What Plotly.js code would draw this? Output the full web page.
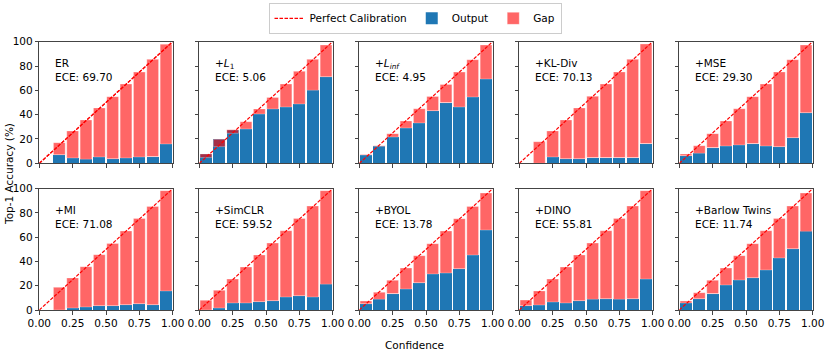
<!DOCTYPE html>
<html>
<head>
<meta charset="utf-8">
<script src="https://cdn.plot.ly/plotly-3.0.1.min.js"></script>
<style>body{margin:0;background:#fff}#myDiv{width:830px;height:356px}</style>
</head>
<body>
<div id="myDiv"></div>
<script>
// bin centres (confidence)
var bins = [0.05, 0.15, 0.25, 0.35, 0.45, 0.55, 0.65, 0.75, 0.85, 0.95];

var names = ['ER', '+<i>L</i><sub>1</sub>', '+<i>L</i><sub><i>inf</i></sub>', '+KL-Div', '+MSE',
             '+MI', '+SimCLR', '+BYOL', '+DINO', '+Barlow Twins'];
var ece = ['69.70', '5.06', '4.95', '70.13', '29.30', '71.08', '59.52', '13.78', '55.81', '11.74'];

// accuracy per bin (blue) and mean confidence per bin (top of gap), in %
var erOut = [null, 7.1, 4.4, 3.3, 5.2, 3.8, 4.4, 5.2, 5.5, 15.9];
var erConf = [null, 17.0, 26.6, 35.6, 45.5, 54.8, 65.2, 75.0, 85.5, 98.0];
var l1Out = [7.7, 19.7, 27.5, 28.2, 40.5, 44.7, 46.3, 48.8, 60.0, 71.2];
var l1Conf = [4.7, 13.7, 24.7, 34.2, 44.7, 54.2, 65.2, 75.6, 85.5, 97.3];
var linfOut = [6.8, 14.0, 21.6, 29.0, 33.2, 43.3, 49.9, 46.3, 54.5, 69.3];
var linfConf = [7.2, 14.4, 24.4, 34.8, 44.9, 55.0, 64.9, 75.0, 85.2, 97.3];
var klOut = [null, 0, 5.2, 3.8, 3.8, 4.7, 4.7, 4.7, 4.7, 16.2];
var klConf = [null, 17.8, 26.6, 35.6, 45.5, 55.1, 65.2, 75.1, 85.5, 98.1];
var mseOut = [6.3, 8.2, 12.9, 14.2, 15.1, 16.2, 14.2, 13.7, 21.1, 41.6];
var mseConf = [7.7, 14.5, 24.4, 34.8, 44.9, 54.8, 65.2, 75.1, 85.2, 97.3];
var miOut = [null, 0, 1.6, 2.5, 3.6, 3.6, 4.4, 5.2, 4.4, 15.7];
var miConf = [null, 18.7, 26.4, 35.7, 45.6, 54.9, 65.1, 75.5, 85.4, 98.4];
var simclrOut = [0, 1.6, 5.8, 5.8, 6.9, 7.7, 10.7, 11.8, 10.7, 21.2];
var simclrConf = [8.0, 16.2, 25.5, 35.4, 45.3, 55.2, 65.4, 75.5, 85.7, 98.4];
var byolOut = [5.2, 8.8, 13.5, 17.3, 22.5, 29.7, 30.5, 34.1, 45.3, 65.9];
var byolConf = [7.4, 14.6, 24.5, 34.6, 44.8, 54.7, 65.1, 75.3, 85.4, 96.4];
var dinoOut = [3.6, 4.1, 6.6, 5.8, 7.7, 8.8, 9.3, 8.8, 9.3, 25.5];
var dinoConf = [8.2, 15.7, 25.5, 35.4, 45.3, 55.2, 65.4, 75.5, 85.7, 98.4];
var barlowOut = [5.8, 9.3, 13.5, 20.6, 24.7, 26.6, 33.0, 42.9, 50.5, 64.8];
var barlowConf = [7.4, 14.3, 24.5, 34.6, 44.8, 54.7, 65.4, 75.5, 85.7, 96.4];

var outs = [erOut, l1Out, linfOut, klOut, mseOut, miOut, simclrOut, byolOut, dinoOut, barlowOut];
var confs = [erConf, l1Conf, linfConf, klConf, mseConf, miConf, simclrConf, byolConf, dinoConf, barlowConf];

var W = 830, H = 356;
var axColor = '#444';
var tickFont = {family: 'DejaVu Sans', size: 10.5, color: '#000'};
var diagLine = {color: '#ff0000', dash: '3.5px,1.5px', width: 1.2};

var data = [];
var layout = {
  width: W, height: H,
  margin: {l: 0, r: 0, t: 0, b: 0},
  paper_bgcolor: '#fff', plot_bgcolor: '#fff',
  barmode: 'overlay',
  bargap: 0,
  showlegend: true,
  font: {family: 'DejaVu Sans', size: 10.5, color: '#000'},
  legend: {
    orientation: 'h', x: 0.5, xanchor: 'center', y: 0.992, yanchor: 'top',
    bordercolor: '#ccc', borderwidth: 1, font: {size: 10.5},
    traceorder: 'normal'
  },
  annotations: [],
  shapes: []
};

for (var i = 0; i < 10; i++) {
  var row = Math.floor(i / 5), col = i % 5;
  var sfx = i === 0 ? '' : String(i + 1);
  var xa = 'x' + sfx, ya = 'y' + sfx;
  var gap = confs[i].map(function (c, k) {
    return c === null ? null : c - outs[i][k];
  });

  data.push({
    type: 'bar', x: bins, y: outs[i], width: 0.088, xaxis: xa, yaxis: ya,
    marker: {color: '#1f77b4'}, name: 'Output', legendgroup: 'out',
    showlegend: i === 0, legendrank: 2, hoverinfo: 'skip'
  });
  data.push({
    type: 'bar', x: bins, y: gap, base: outs[i], width: 0.088, xaxis: xa, yaxis: ya,
    marker: {color: 'rgba(255,0,0,0.6)', line: {color: 'rgba(255,255,255,0.5)', width: 0.6}},
    name: 'Gap', legendgroup: 'gap',
    showlegend: i === 0, legendrank: 3, hoverinfo: 'skip'
  });
  if (i === 0) {
    data.push({
      type: 'scatter', mode: 'lines', x: [0, 1], y: [0, 100], xaxis: xa, yaxis: ya,
      line: diagLine,
      name: 'Perfect Calibration', legendgroup: 'pc',
      showlegend: true, legendrank: 1, hoverinfo: 'skip'
    });
  }
  // diagonal drawn above the bars
  layout.shapes.push({
    type: 'line', xref: xa, yref: ya, x0: 0, y0: 0, x1: 1, y1: 100, layer: 'above',
    line: diagLine
  });

  var x0 = (39.3 + 160 * col) / W, x1 = (172.7 + 160 * col) / W;
  var yd = row === 0 ? [1 - 163.3 / H, 1 - 41.7 / H] : [1 - 310 / H, 1 - 188.7 / H];

  layout['xaxis' + sfx] = {
    domain: [x0, x1], anchor: ya, range: [0, 1],
    tickvals: [0, 0.25, 0.5, 0.75, 1], tickformat: '.2f',
    showticklabels: row === 1, tickfont: tickFont,
    ticks: 'outside', ticklen: 3.5, tickcolor: axColor,
    showline: true, mirror: true, linecolor: axColor, linewidth: 1,
    showgrid: false, zeroline: false, fixedrange: true
  };
  layout['yaxis' + sfx] = {
    domain: yd, anchor: xa, range: [0, 100],
    tickvals: [0, 20, 40, 60, 80, 100],
    showticklabels: col === 0, tickfont: tickFont,
    ticks: 'outside', ticklen: 3.5, tickcolor: axColor,
    showline: true, mirror: true, linecolor: axColor, linewidth: 1,
    showgrid: false, zeroline: false, fixedrange: true
  };

  layout.annotations.push({
    xref: xa + ' domain', yref: ya + ' domain', x: 0.1, y: 0.89,
    xanchor: 'left', yanchor: 'top', align: 'left', showarrow: false,
    text: names[i] + '<br>ECE: ' + ece[i], font: {size: 10.5}
  });
}

layout.annotations.push({
  xref: 'paper', yref: 'paper', x: 9 / W, y: 1 - 174 / H, textangle: -90,
  showarrow: false, text: 'Top-1 Accuracy (%)', font: {size: 10.5},
  xanchor: 'center', yanchor: 'middle'
});
layout.annotations.push({
  xref: 'paper', yref: 'paper', x: 414 / W, y: 1 - 345 / H,
  showarrow: false, text: 'Confidence', font: {size: 10.5},
  xanchor: 'center', yanchor: 'middle'
});

Plotly.newPlot('myDiv', data, layout, {staticPlot: true});
</script>
</body>
</html>
